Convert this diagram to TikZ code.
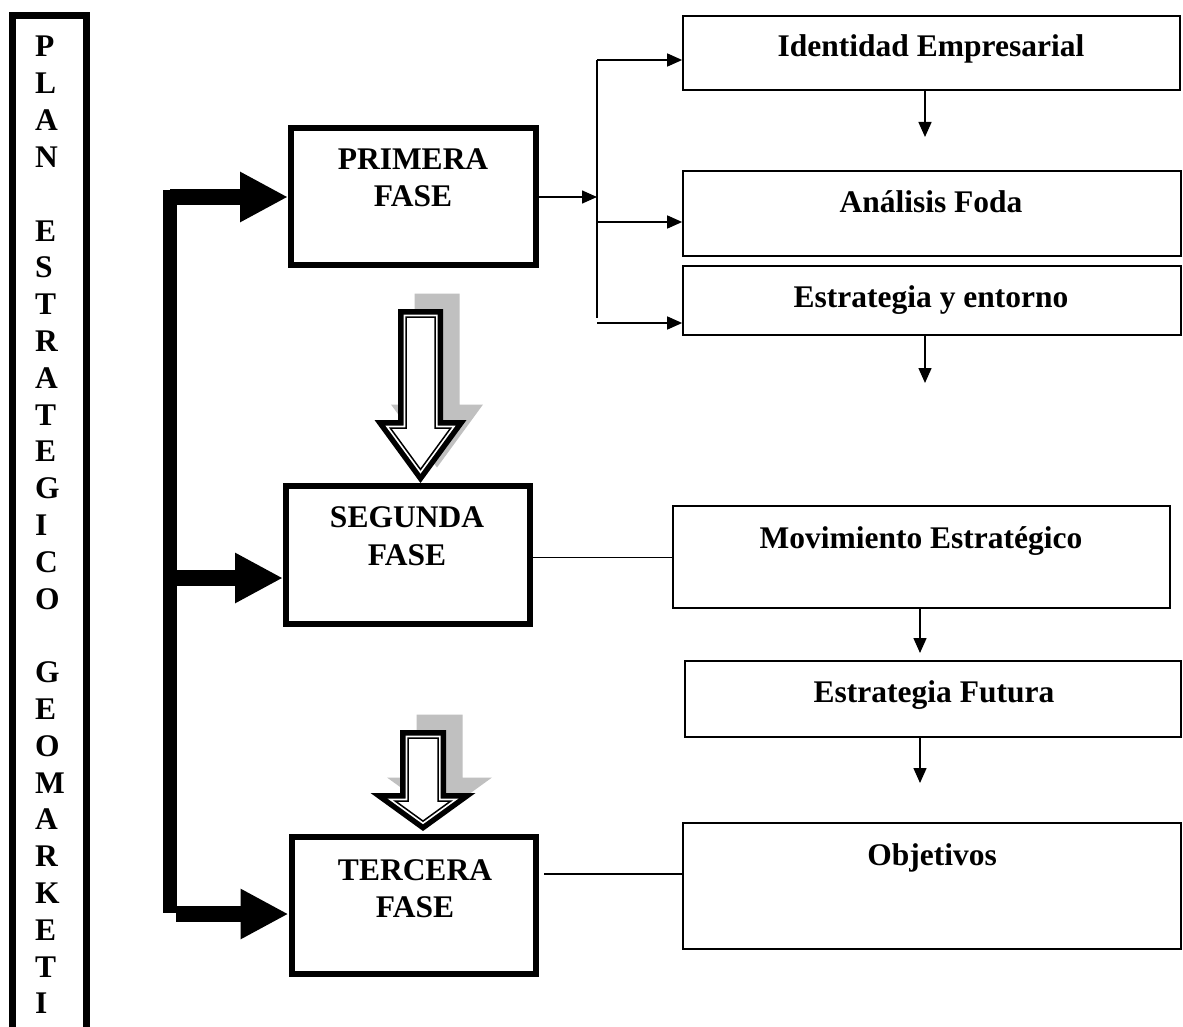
\documentclass[tikz,border=0pt]{standalone}
\usepackage{fontspec}
\setmainfont{Liberation Serif}
\usetikzlibrary{arrows.meta}
\definecolor{shadowgrey}{HTML}{C0C0C0}
\tikzset{
 txt/.style={font=\fontsize{31.5}{37}\selectfont\bfseries, inner sep=0pt, anchor=base},
 letter/.style={font=\fontsize{31.5}{37}\selectfont\bfseries, inner sep=0pt, anchor=base west},
 phasebox/.style={draw, line width=6pt, inner sep=0pt},
 itembox/.style={draw, line width=1.7pt, inner sep=0pt},
 thinline/.style={line width=1.5pt},
 tarrow/.style={line width=1.5pt, -{Triangle[length=15pt,width=13pt]}},
 fatline/.style={line width=14pt},
 fatarrow/.style={line width=16pt, -{Triangle[length=48pt,width=47pt]}},
}
% hollow arrow polygon: cx, top, shaft half width, shoulder y, head half width, tip y, inset, style
\newcommand{\arrpoly}[8]{%
  \pgfmathsetmacro{\apH}{#6-#4}%
  \pgfmathsetmacro{\apL}{sqrt((#5)*(#5)+\apH*\apH)}%
  \pgfmathsetmacro{\apSW}{#3-#7}%
  \pgfmathsetmacro{\apT}{#2+#7}%
  \pgfmathsetmacro{\apY}{#4+#7}%
  \pgfmathsetmacro{\apW}{#5*(\apH-#7)/\apH-#7*\apL/\apH}%
  \pgfmathsetmacro{\apTip}{#6-#7*\apL/(#5)}%
  \path[#8] ({#1-\apSW},\apT) -- ({#1+\apSW},\apT) -- ({#1+\apSW},\apY) -- ({#1+\apW},\apY) -- (#1,\apTip) -- ({#1-\apW},\apY) -- ({#1-\apSW},\apY) -- cycle;
}
\newcommand{\hollowarrow}[6]{%
  \arrpoly{#1}{#2}{#3}{#4}{#5}{#6}{0}{fill=shadowgrey, shift={(16.5,-15.5)}}%
  \arrpoly{#1}{#2}{#3}{#4}{#5}{#6}{0}{fill=black}%
  \arrpoly{#1}{#2}{#3}{#4}{#5}{#6}{5.5}{fill=white}%
  \arrpoly{#1}{#2}{#3}{#4}{#5}{#6}{8}{fill=white, draw=black, line width=1.5pt}%
}
\begin{document}
\begin{tikzpicture}[x=1pt,y=-1pt]
\path[use as bounding box, fill=white] (0,0) rectangle (1183,1027);

% left tall box
\node[draw, line width=7pt, minimum width=74pt, minimum height=1030pt, inner sep=0pt] (plan) at (49.5,531) {};
\foreach \i/\l in {0/P,1/L,2/A,3/N,5/E,6/S,7/T,8/R,9/A,10/T,11/E,12/G,13/I,14/C,15/O,17/G,18/E,19/O,20/M,21/A,22/R,23/K,24/E,25/T,26/I}{
  \node[letter] (let\i) at (35,{57+36.8*\i}) {\l};
}

% phase boxes
\node[phasebox, minimum width=244.5pt, minimum height=136.5pt] (p1) at (413.25,196.25) {};
\node[phasebox, minimum width=244pt, minimum height=138pt] (p2) at (408,555) {};
\node[phasebox, minimum width=244pt, minimum height=137.5pt] (p3) at (413.5,905.25) {};
\node[txt] (t1a) at (413,170) {PRIMERA};
\node[txt] (t1b) at (413,207) {FASE};
\node[txt] (t2a) at (407,527) {SEGUNDA};
\node[txt] (t2b) at (407,565) {FASE};
\node[txt] (t3a) at (415,880) {TERCERA};
\node[txt] (t3b) at (415,917) {FASE};

% item boxes
\node[itembox, minimum width=497pt, minimum height=74pt] (b1) at (931.5,53) {};
\node[itembox, minimum width=498pt, minimum height=85pt] (b2) at (932,213.5) {};
\node[itembox, minimum width=498pt, minimum height=69pt] (b3) at (932,300.5) {};
\node[itembox, minimum width=497pt, minimum height=102pt] (b4) at (921.5,557) {};
\node[itembox, minimum width=496pt, minimum height=76pt] (b5) at (933,699) {};
\node[itembox, minimum width=498pt, minimum height=126pt] (b6) at (932,886) {};
\node[txt] (tb1) at (931,57) {Identidad Empresarial};
\node[txt] (tb2) at (931,212) {Análisis Foda};
\node[txt] (tb3) at (931,307) {Estrategia y entorno};
\node[txt] (tb4) at (921,548) {Movimiento Estratégico};
\node[txt] (tb5) at (934,702) {Estrategia Futura};
\node[txt] (tb6) at (932,865) {Objetivos};

% thick left connector
\coordinate (bartop) at (170,190);
\coordinate (barbot) at (170,913);
\draw[fatline] (bartop) -- (barbot);
\coordinate (s1) at (170,197);
\coordinate (s2) at (177,578);
\coordinate (s3) at (176,914);
\draw[fatarrow] (s1) -- (p1.west |- s1);
\draw[fatarrow] (s2) -- (p2.west |- s2);
\draw[fatarrow] (s3) -- (p3.west |- s3);

% branching from first phase
\coordinate (j) at (597,197);
\coordinate (jt) at (597,60);
\coordinate (jb) at (597,318);
\coordinate (j2) at (597,222);
\coordinate (j3) at (597,323);
\draw[tarrow] (p1.east |- j) -- (j);
\draw[thinline] (jt) -- (jb);
\draw[tarrow] (jt) -- (b1.west |- jt);
\draw[tarrow] (j2) -- (b2.west |- j2);
\draw[tarrow] (j3) -- (b3.west |- j3);

% downward arrows
\coordinate (d1) at (925,137);
\coordinate (d2) at (925,383);
\coordinate (d3) at (920,653);
\coordinate (d4) at (920,783);
\draw[tarrow] (b1.south -| d1) -- (d1);
\draw[tarrow] (b3.south -| d2) -- (d2);
\draw[tarrow] (b4.south -| d3) -- (d3);
\draw[tarrow] (b5.south -| d4) -- (d4);

% plain lines
\coordinate (m2) at (533,557.5);
\draw[thinline] (p2.east |- m2) -- (b4.west |- m2);
\coordinate (m3) at (544,874);
\draw[thinline] (m3) -- (b6.west |- m3);

% hollow arrows with shadow
\hollowarrow{420.5}{309}{22.5}{420}{46}{483}
\hollowarrow{423}{730}{23}{793}{52.5}{831}
\end{tikzpicture}
\end{document}
